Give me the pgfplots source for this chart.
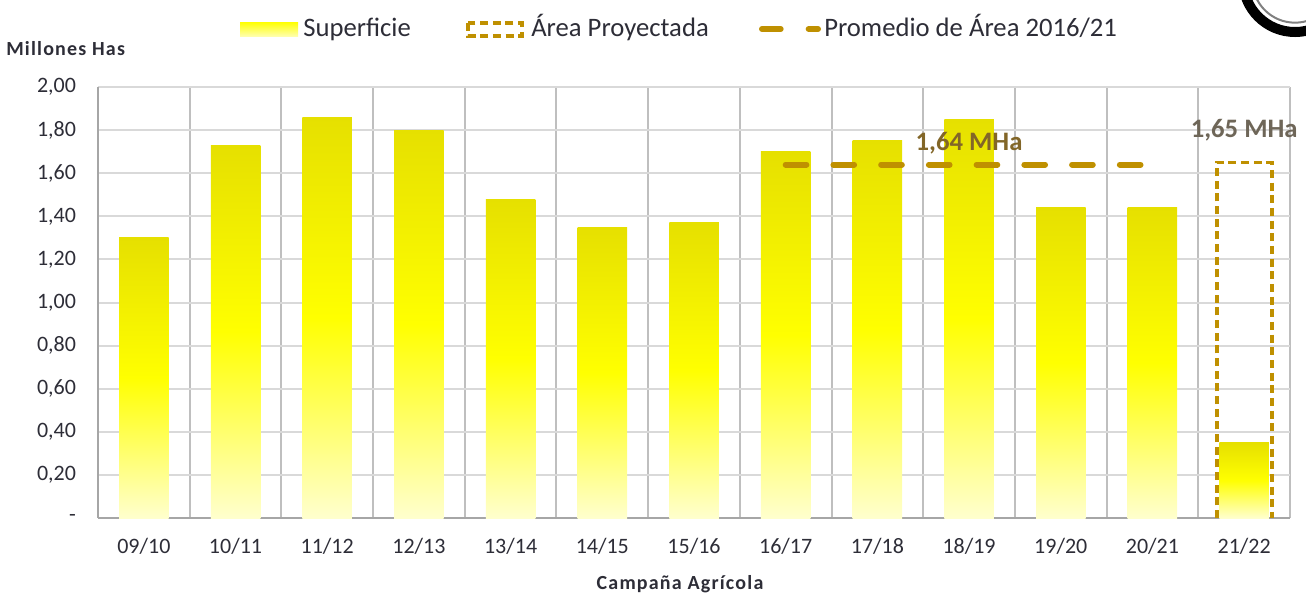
\documentclass[border=0pt]{standalone}
\usepackage{pgfplots}
\pgfplotsset{compat=1.18}
\usepackage{fontspec}
\setmainfont{Carlito}
\definecolor{gold}{RGB}{191,144,0}
\definecolor{bartop}{RGB}{230,224,0}
\definecolor{barmid}{RGB}{255,255,0}
\definecolor{barbot}{RGB}{255,255,205}
\definecolor{gridh}{RGB}{217,217,217}
\definecolor{gridv}{RGB}{191,191,191}
\definecolor{axisc}{RGB}{166,166,166}
\definecolor{txt}{RGB}{45,45,55}
\definecolor{lblA}{RGB}{130,102,40}
\definecolor{lblB}{RGB}{110,102,88}
\pgfplotsset{sup/.style={ybar, bar width=0.54, bar shift=0pt, draw=none,
  top color=bartop, bottom color=barbot, middle color=barmid}}

\begin{document}
\begin{tikzpicture}[x=0.75pt,y=-0.75pt]
\useasboundingbox (0,0) rectangle (1306,594);
\begin{axis}[
  at={(73.5pt,-388.5pt)}, anchor=south west,
  scale only axis, width=894pt, height=323.25pt,
  xmin=-0.5, xmax=12.5, ymin=0, ymax=2,
  axis lines=left, axis line style={-, draw=axisc, line width=1.5pt},
  xtick={0,1,2,3,4,5,6,7,8,9,10,11,12},
  xticklabels={09/10,10/11,11/12,12/13,13/14,14/15,15/16,16/17,17/18,18/19,19/20,20/21,21/22},
  minor xtick={0.5,1.5,2.5,3.5,4.5,5.5,6.5,7.5,8.5,9.5,10.5,11.5,12.5},
  xminorgrids, minor grid style={draw=gridv, line width=1.5pt},
  ytick={0,0.2,0.4,0.6,0.8,1,1.2,1.4,1.6,1.8,2},
  yticklabels={{-\hspace{0.6em}},{0,20},{0,40},{0,60},{0,80},{1,00},{1,20},{1,40},{1,60},{1,80},{2,00}},
  ymajorgrids, major grid style={draw=gridh, line width=1.5pt},
  major tick length=0pt, minor tick length=0pt,
  tick label style={font=\fontsize{16.5}{18}\selectfont, text=txt},
  yticklabel style={xshift=-13pt},
  xticklabel style={yshift=-12pt},
  clip=false,
]
% Superficie (each bar its own gradient)
\addplot[sup] coordinates {(0,1.30)};
\addplot[sup] coordinates {(1,1.73)};
\addplot[sup] coordinates {(2,1.86)};
\addplot[sup] coordinates {(3,1.80)};
\addplot[sup] coordinates {(4,1.48)};
\addplot[sup] coordinates {(5,1.35)};
\addplot[sup] coordinates {(6,1.37)};
\addplot[sup] coordinates {(7,1.70)};
\addplot[sup] coordinates {(8,1.75)};
\addplot[sup] coordinates {(9,1.85)};
\addplot[sup] coordinates {(10,1.44)};
\addplot[sup] coordinates {(11,1.44)};
\addplot[sup] coordinates {(12,0.35)};
% Promedio 2016/21
\addplot[draw=gold, line width=4.5pt, line cap=round, dash pattern=on 15.5pt off 20.3pt]
  coordinates {(7,1.64)(11,1.64)};
% Area proyectada 21/22 = 1.65 (open box, bar width 0.6)
\addplot[draw=gold, line width=2.8pt, dash pattern=on 6pt off 3.5pt]
  coordinates {(11.7,0)(11.7,1.65)(12.3,1.65)(12.3,0)};
\node[font=\bfseries\fontsize{20}{22}\selectfont, text=lblA] at (axis cs:9,1.74) {1,64 MHa};
\node[font=\bfseries\fontsize{20}{22}\selectfont, text=lblB] at (axis cs:12,1.80) {1,65 MHa};
\end{axis}
% legend
\shade[top color=barmid, bottom color={rgb,255:red,255;green,255;blue,170}] (240,22) rectangle (298,36);
\node[anchor=base west, inner sep=0, font=\fontsize{20}{22}\selectfont, text=txt] at (303,36) {Superficie};
\draw[gold, line width=2.5pt, dash pattern=on 6pt off 3.5pt] (468,23) rectangle (522,36);
\node[anchor=base west, inner sep=0, font=\fontsize{20}{22}\selectfont, text=txt] at (531,36) {Área Proyectada};
\draw[gold, line width=4.5pt, line cap=round, dash pattern=on 14pt off 21pt] (762,29) -- (818,29);
\node[anchor=base west, inner sep=0, font=\fontsize{20}{22}\selectfont, text=txt] at (824,36) {Promedio de Área 2016/21};
% axis titles
\node[anchor=base west, inner sep=0, font={\bfseries\fontsize{15}{17}\selectfont\addfontfeature{LetterSpace=6}}, text=txt] at (6,55) {Millones Has};
\node[anchor=base, inner sep=0, font={\bfseries\fontsize{15}{17}\selectfont\addfontfeature{LetterSpace=6}}, text=txt] at (680,589) {Campaña Agrícola};
% logo (partial)
\begin{scope}
\clip (0,0) rectangle (1306,594);
\draw[line width=7.5pt] (1295,-20) circle (39pt);
\draw[gray, line width=1.5pt] (1295,-20) circle (32pt);
\end{scope}
\end{tikzpicture}
\end{document}
